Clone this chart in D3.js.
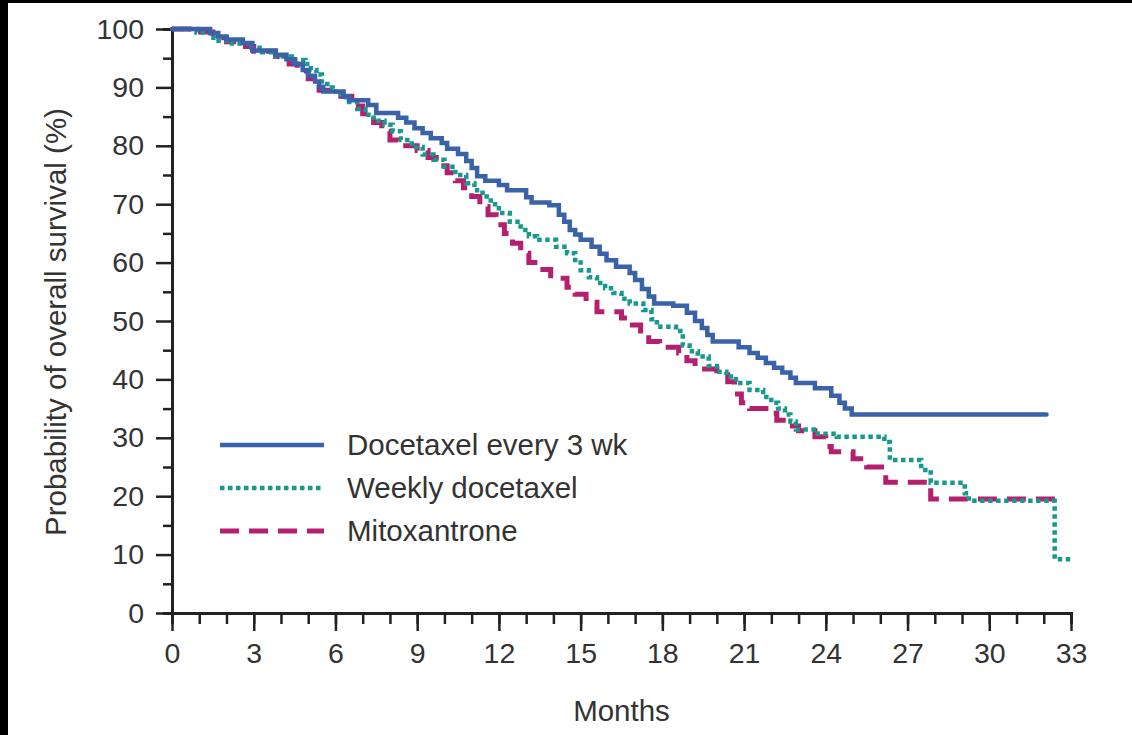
<!DOCTYPE html>
<html>
<head>
<meta charset="utf-8">
<script src="https://cdn.jsdelivr.net/npm/d3@7"></script>
<style>
  html, body { margin: 0; padding: 0; background: #fff; }
  svg { display: block; font-family: "Liberation Sans", Arial, sans-serif; }
</style>
</head>
<body>
<svg id="km_chart" width="1132" height="735"></svg>
<script>
// Kaplan-Meier steps: [month, survival % after the step]
const docetaxel3wk = [[0,100],[1.4,99.3],[1.7,98.7],[2.0,98.2],[2.6,97.6],[2.95,96.3],[3.8,95.6],[4.2,94.8],[4.5,94.0],[4.8,93.0],[5.0,92.0],[5.25,91.0],[5.4,90.1],[5.55,89.3],[6.3,88.5],[6.5,87.8],[7.2,87.0],[7.5,85.6],[8.3,84.8],[8.6,84.0],[8.9,83.0],[9.2,82.2],[9.5,81.3],[9.9,80.5],[10.1,79.5],[10.5,78.6],[10.8,77.4],[11.0,76.2],[11.2,74.8],[11.5,74.0],[12.0,73.3],[12.3,72.4],[13.0,71.2],[13.2,70.3],[13.85,69.8],[14.2,68.2],[14.4,67.0],[14.6,65.6],[14.8,64.8],[15.0,63.9],[15.4,62.7],[15.7,61.5],[15.95,60.4],[16.3,59.3],[16.8,58.2],[17.0,57.0],[17.25,55.5],[17.5,54.2],[17.7,53.0],[18.4,52.6],[18.9,51.4],[19.2,50.0],[19.45,48.8],[19.65,47.6],[19.85,46.5],[20.8,45.5],[21.2,44.5],[21.5,43.7],[21.8,42.8],[22.1,42.0],[22.4,41.2],[22.7,40.3],[22.9,39.4],[23.6,38.5],[24.2,37.2],[24.5,36.0],[24.7,35.0],[24.95,34.0]];
const weeklyDocetaxel = [[0,100],[0.9,99.4],[1.4,98.5],[1.6,98.0],[2.2,97.5],[2.8,96.8],[3.3,96.0],[3.8,95.3],[4.4,94.7],[4.9,94.0],[5.1,93.0],[5.3,92.2],[5.5,91.0],[5.7,90.0],[5.9,89.3],[6.2,88.3],[6.5,87.5],[6.8,86.3],[7.1,85.3],[7.4,84.3],[7.8,83.6],[8.1,82.5],[8.4,81.0],[8.8,79.8],[9.2,78.5],[9.6,77.6],[10.0,76.4],[10.4,75.0],[10.8,73.6],[11.1,72.4],[11.4,71.3],[11.7,70.0],[12.0,68.5],[12.4,67.0],[12.8,65.6],[13.1,64.5],[13.4,63.9],[14.1,62.7],[14.5,61.6],[14.8,60.0],[15.0,58.7],[15.3,57.5],[15.6,56.5],[15.9,55.6],[16.2,54.8],[16.5,53.8],[16.8,53.0],[17.3,51.9],[17.6,50.3],[17.8,49.0],[18.5,48.3],[18.75,45.8],[19.0,44.8],[19.3,43.9],[19.7,42.3],[20.0,41.3],[20.35,40.5],[20.7,39.4],[21.2,38.2],[21.7,37.0],[22.0,36.0],[22.25,35.0],[22.5,34.0],[22.7,32.8],[22.9,31.4],[23.7,30.7],[24.4,30.2],[26.15,29.3],[26.35,26.2],[27.5,24.5],[27.85,22.3],[29.1,20.5],[29.25,19.2],[32.4,9.2]];
const mitoxantrone = [[0,100],[0.8,99.5],[1.5,98.5],[2.0,97.8],[2.7,97.0],[3.0,96.2],[3.8,95.3],[4.3,94.0],[4.6,92.8],[5.0,91.5],[5.4,89.5],[6.2,88.5],[6.6,86.8],[7.0,85.5],[7.4,84.0],[7.7,82.5],[8.0,81.0],[8.3,80.0],[9.0,79.2],[9.4,78.0],[9.7,76.6],[10.1,75.4],[10.4,74.0],[10.7,72.8],[11.0,71.3],[11.3,69.6],[11.6,68.2],[11.9,66.5],[12.2,65.0],[12.5,63.3],[12.8,61.6],[13.1,60.0],[13.5,58.8],[13.9,57.3],[14.5,55.8],[14.8,54.6],[15.2,53.2],[15.6,51.6],[16.5,50.5],[16.8,49.3],[17.2,47.8],[17.5,46.5],[17.9,45.5],[18.6,44.5],[18.9,43.2],[19.2,41.8],[20.0,40.8],[20.4,39.6],[20.65,37.5],[20.9,36.0],[21.2,35.0],[21.8,34.2],[22.2,33.0],[22.6,32.0],[23.0,31.2],[23.6,30.2],[24.0,28.5],[24.2,27.6],[25.0,26.4],[25.5,25.0],[26.2,22.4],[27.85,19.5]];

// last follow-up month of each arm (curve is drawn flat up to here)
const lastFollowUp = [32.1, 33.1, 32.6];
const seriesNames = ["Docetaxel every 3 wk", "Weekly docetaxel", "Mitoxantrone"];

const monthTicks = d3.range(0, 34, 3);
const monthMinorTicks = d3.range(0, 34, 1);
const survivalTicks = d3.range(0, 101, 10);
const survivalMinorTicks = d3.range(5, 100, 10);

const styles = [
    { color: "#3a62a8", width: 4.5, dash: null },
    { color: "#17998e", width: 4.5, dash: "4.5,3.5" },
    { color: "#b5206e", width: 5, dash: "19,10" }
];

const svg = d3.select("#km_chart");

// black frame remnants on the left and top edges of the scan
svg.append("rect").attr("x", 0).attr("y", 0).attr("width", 1132).attr("height", 3).attr("fill", "#000");
svg.append("rect").attr("x", 0).attr("y", 0).attr("width", 8).attr("height", 735).attr("fill", "#000");

const x = d3.scaleLinear().domain([0, 33]).range([172, 1071]);
const y = d3.scaleLinear().domain([0, 100]).range([613, 29]);

const axisColor = "#222";
const textColor = "#333";

// y axis: major + minor ticks, pointing outward
const yAxis = svg.append("g").attr("transform", `translate(${x(0)},0)`);
yAxis.call(d3.axisLeft(y).tickValues(survivalTicks).tickSize(16).tickPadding(12).tickFormat(d3.format("d")));
yAxis.append("g").call(d3.axisLeft(y).tickValues(survivalMinorTicks).tickSize(9).tickFormat(""));

// x axis
const xAxis = svg.append("g").attr("transform", `translate(0,${y(0)})`);
xAxis.call(d3.axisBottom(x).tickValues(monthTicks).tickSize(18).tickPadding(12).tickFormat(d3.format("d")));
xAxis.append("g").call(d3.axisBottom(x).tickValues(monthMinorTicks).tickSize(11).tickFormat(""));

svg.selectAll(".domain").attr("stroke", axisColor).attr("stroke-width", 3);
svg.selectAll(".tick line").attr("stroke", axisColor).attr("stroke-width", 2.5);
svg.selectAll(".tick text")
    .attr("fill", textColor)
    .style("font-size", "28.5px")
    .style("font-family", "'Liberation Sans', Arial, sans-serif");
// minor groups carry their own domain paths; hide them
xAxis.select("g .domain").remove();
yAxis.select("g .domain").remove();

// curves
const line = d3.line()
    .x(d => x(d[0]))
    .y(d => y(d[1]))
    .curve(d3.curveStepAfter);

const series = [docetaxel3wk, weeklyDocetaxel, mitoxantrone];
const curves = svg.append("g").attr("class", "curves");

// draw mitoxantrone first, docetaxel q3w on top
[2, 1, 0].forEach(i => {
    const pts = series[i].concat([[lastFollowUp[i], series[i][series[i].length - 1][1]]]);
    curves.append("path")
        .datum(pts)
        .attr("d", line)
        .attr("fill", "none")
        .attr("stroke", styles[i].color)
        .attr("stroke-width", styles[i].width)
        .attr("stroke-dasharray", styles[i].dash)
        .attr("stroke-linecap", i === 0 ? "round" : "butt")
        .attr("stroke-linejoin", "miter");
});

// legend
const legend = svg.selectAll("g.legend-entry")
    .data(seriesNames)
    .enter()
    .append("g")
    .attr("class", "legend-entry")
    .attr("transform", (d, i) => `translate(220, ${445 + i * 43})`);

legend.append("line")
    .attr("x1", 0)
    .attr("x2", 104)
    .attr("y1", 0)
    .attr("y2", 0)
    .attr("stroke", (d, i) => styles[i].color)
    .attr("stroke-width", (d, i) => styles[i].width)
    .attr("stroke-dasharray", (d, i) => styles[i].dash);

legend.append("text")
    .attr("x", 127)
    .attr("y", 10)
    .attr("fill", textColor)
    .style("font-size", "29.5px")
    .text(d => d);

// axis titles
svg.append("text")
    .attr("x", (x(0) + x(33)) / 2)
    .attr("y", 721)
    .attr("text-anchor", "middle")
    .attr("fill", textColor)
    .style("font-size", "29.5px")
    .text("Months");

svg.append("text")
    .attr("transform", "translate(66,322) rotate(-90)")
    .attr("text-anchor", "middle")
    .attr("fill", textColor)
    .style("font-size", "29.5px")
    .text("Probability of overall survival (%)");
</script>
</body>
</html>
